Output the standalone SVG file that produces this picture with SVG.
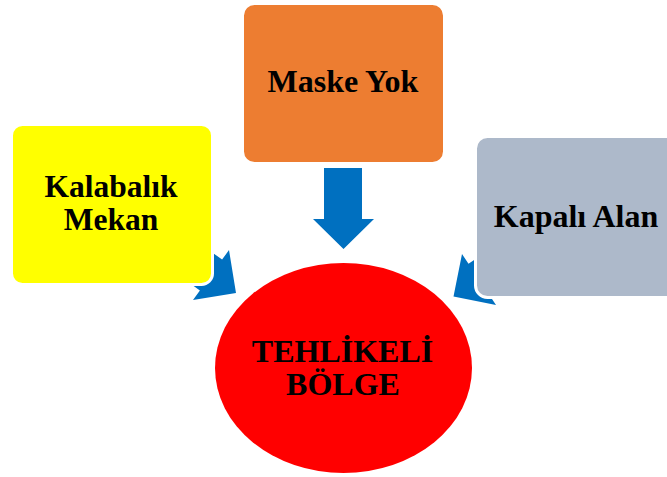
<svg xmlns="http://www.w3.org/2000/svg" width="667" height="477" viewBox="0 0 667 477">
<style>
.box{stroke:#FFFFFF;stroke-width:3}
.lbl{font-family:"Liberation Serif","Times New Roman",serif;font-weight:bold;fill:#000000;text-anchor:middle}
.arrow{fill:#0070C0}
</style>
<rect x="0" y="0" width="667" height="477" fill="#FFFFFF"/>
<g id="connectors">
<polygon class="arrow" points="324,168 362,168 362,219 374,219 343.5,249 313,219 324,219"/>
<polygon class="arrow" points="181.5,230.4 222.1,259.6 229,250 236,293 193,300 199.9,290.4 159.3,261.2"/>
<polygon class="arrow" points="531.1,267.6 489.5,295.3 496,305 453.5,296.5 462,254 468.5,263.7 510.1,236"/>
</g>
<g id="node-kalabalik">
<rect class="box" x="11.5" y="124.5" width="201" height="160" rx="11" fill="#FFFF00"/>
<text class="lbl" font-size="31.5" x="111" y="197">Kalabalık</text>
<text class="lbl" font-size="31.5" x="111" y="230">Mekan</text>
</g>
<g id="node-maske">
<rect class="box" x="242.5" y="3.5" width="202" height="160" rx="12" fill="#ED7D31"/>
<text class="lbl" font-size="32" x="343" y="92">Maske Yok</text>
</g>
<g id="node-kapali">
<rect class="box" x="475.5" y="136.5" width="202" height="161" rx="12" fill="#ADB9CA"/>
<text class="lbl" font-size="32" x="576" y="227">Kapalı Alan</text>
</g>
<g id="node-tehlikeli">
<ellipse cx="343.5" cy="368" rx="128.5" ry="105" fill="#FF0000"/>
<text class="lbl" font-size="32" x="342.5" y="362">TEHLİKELİ</text>
<text class="lbl" font-size="32" x="343" y="395">BÖLGE</text>
</g>
</svg>
